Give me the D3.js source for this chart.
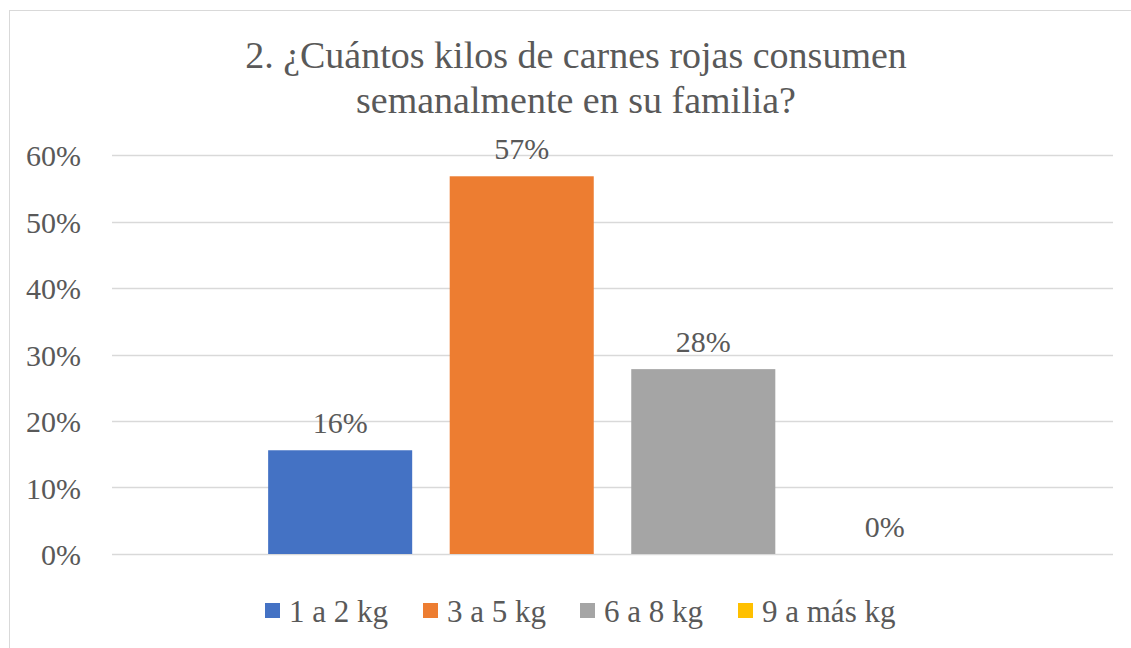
<!DOCTYPE html>
<html><head><meta charset="UTF-8"><script src="https://d3js.org/d3.v7.min.js"></script></head>
<body style="margin:0">
<script>
  // data
  var series = ["1 a 2 kg", "3 a 5 kg", "6 a 8 kg", "9 a más kg"];
  var values = [0.156, 0.568, 0.278, 0];
  var labels = ["16%", "57%", "28%", "0%"];
  var colors = ["#4472c4", "#ed7d31", "#a5a5a5", "#ffc000"];
  var yTicks = [0, 0.1, 0.2, 0.3, 0.4, 0.5, 0.6];
  var titleLines = ["2. ¿Cuántos kilos de carnes rojas consumen", "semanalmente en su familia?"];

  var FONT = "'Liberation Serif'";
  var W = 1131, H = 648;
  var svg = d3.select("body").append("svg")
    .attr("width", W)
    .attr("height", H);

  // chart frame
  svg.append("rect")
    .attr("x", 9.5).attr("y", 10.5)
    .attr("width", W + 20).attr("height", H + 20)
    .attr("fill", "#fff")
    .attr("stroke", "#d9d9d9")
    .attr("stroke-width", 1);

  var plotL = 112, plotR = 1113, plotT = 155, plotB = 554;

  var y = d3.scaleLinear().domain([0, 0.6]).range([plotB, plotT]);
  var x = d3.scaleBand().domain(series).range([plotL, plotR])
    .paddingInner(0.2066).paddingOuter(0.86);

  // title, one text per line
  svg.selectAll("text.title").data(titleLines).enter().append("text")
    .attr("class", "title")
    .attr("x", 576)
    .attr("y", function(d, i) { return 68 + i * 45; })
    .attr("text-anchor", "middle")
    .attr("fill", "#595959")
    .style("font-family", FONT)
    .style("font-size", "38px")
    .text(function(d) { return d; });

  // gridlines
  svg.append("g").selectAll("line").data(yTicks).enter().append("line")
    .attr("x1", plotL).attr("x2", plotR)
    .attr("y1", function(d) { return Math.round(y(d)) + 0.5; })
    .attr("y2", function(d) { return Math.round(y(d)) + 0.5; })
    .attr("stroke", "#d9d9d9")
    .attr("stroke-width", 1.5);

  // y axis labels
  var yAxis = d3.axisLeft(y).tickValues(yTicks).tickFormat(d3.format(".0%")).tickSize(0).tickPadding(0);
  var ga = svg.append("g").attr("transform", "translate(81,0)").call(yAxis);
  ga.select(".domain").remove();
  ga.attr("font-family", null).attr("font-size", null);
  ga.selectAll("text")
    .attr("fill", "#595959")
    .attr("dy", "0.35em")
    .style("font-family", FONT)
    .style("font-size", "30px");

  // bars
  svg.append("g").selectAll("rect").data(values).enter().append("rect")
    .attr("x", function(d, i) { return x(series[i]); })
    .attr("y", function(d) { return y(d); })
    .attr("width", x.bandwidth())
    .attr("height", function(d) { return plotB - y(d); })
    .attr("fill", function(d, i) { return colors[i]; });

  // data labels
  svg.selectAll("text.lbl").data(values).enter().append("text")
    .attr("class", "lbl")
    .attr("x", function(d, i) { return x(series[i]) + x.bandwidth() / 2; })
    .attr("y", function(d) { return y(d) - 17; })
    .attr("text-anchor", "middle")
    .attr("fill", "#595959")
    .style("font-family", FONT)
    .style("font-size", "30px")
    .text(function(d, i) { return labels[i]; });

  // legend
  var legendX = [265, 423, 580, 738];
  svg.selectAll("rect.key").data(series).enter().append("rect")
    .attr("class", "key")
    .attr("x", function(d, i) { return legendX[i]; })
    .attr("y", 603)
    .attr("width", 15).attr("height", 15)
    .attr("fill", function(d, i) { return colors[i]; });
  svg.selectAll("text.key").data(series).enter().append("text")
    .attr("class", "key")
    .attr("x", function(d, i) { return legendX[i] + 24; })
    .attr("y", 622)
    .attr("fill", "#595959")
    .style("font-family", FONT)
    .style("font-size", "31px")
    .text(function(d) { return d; });
</script></body></html>
